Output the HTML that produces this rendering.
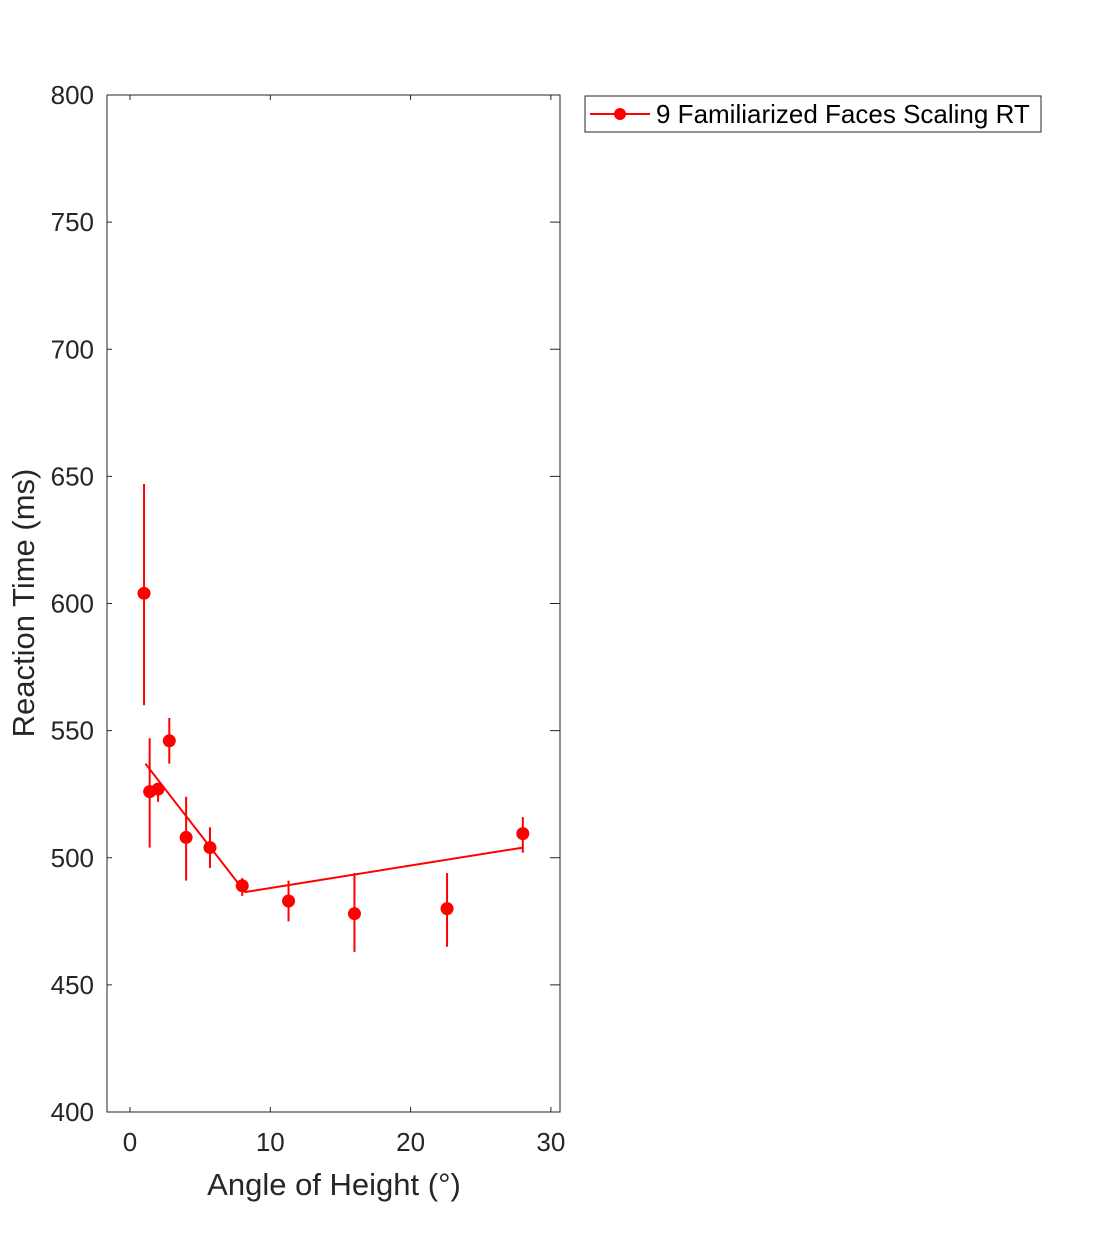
<!DOCTYPE html>
<html><head><meta charset="utf-8"><style>
body{margin:0;background:#fff;}
svg{display:block;font-family:"Liberation Sans",sans-serif;}
</style></head><body>
<svg id="chart" width="1094" height="1250">
<rect x="0" y="0" width="1094" height="1250" fill="#fff"/>
<g id="plot"></g>
<text x="334" y="1195" font-size="31" fill="#262626" text-anchor="middle">Angle of Height (°)</text>
<text transform="translate(34,603) rotate(-90)" font-size="31" fill="#262626" text-anchor="middle">Reaction Time (ms)</text>
<g>
<rect x="585" y="96" width="456" height="36" fill="#fff" stroke="#262626" stroke-width="1"/>
<line x1="590" y1="114" x2="650" y2="114" stroke="#f00" stroke-width="2"/>
<circle cx="620" cy="114" r="6" fill="#f00"/>
<text x="656" y="123" font-size="26" fill="#000">9 Familiarized Faces Scaling RT</text>
</g>
</svg>
<script>
const xs=[1,1.4,2,2.8,4,5.7,8,11.3,16,22.6,28];
const ys=[604,526,527,546,508,504,489,483,478,480,509.5];
const errLo=[560,504,522,537,491,496,485,475,463,465,502];
const errHi=[647,547,529,555,524,512,492,491,494,494,516];
const fitX=[1.1,8.2,28];
const fitY=[537,486.5,504];
const xTicks=[0,10,20,30];
const yTicks=[400,450,500,550,600,650,700,750,800];
const L=107,R=560,T=95,B=1112;
const x0=-1.64,x1=30.65,y0=400,y1=800;
const sx=v=>L+(v-x0)/(x1-x0)*(R-L);
const sy=v=>B-(v-y0)/(y1-y0)*(B-T);
const NS="http://www.w3.org/2000/svg";
const g=document.getElementById('plot');
function mk(t,a){const e=document.createElementNS(NS,t);for(const k in a)e.setAttribute(k,a[k]);g.appendChild(e);return e;}
let box=mk('rect',{x:L,y:T,width:R-L,height:B-T,fill:'none',stroke:'#262626','stroke-width':1});


xTicks.forEach(v=>{
 let t=mk('line',{x1:sx(v),x2:sx(v),y1:B,y2:B-5,stroke:'#262626'});
 
 
 let t2=mk('line',{x1:sx(v),x2:sx(v),y1:T,y2:T+5,stroke:'#262626'});
 
 
 let l=mk('text',{x:sx(v),y:B+39,'font-size':26,fill:'#262626','text-anchor':'middle'});
 l.textContent=v;
 
 
});
yTicks.forEach(v=>{
 let t=mk('line',{x1:L,x2:L+5,y1:sy(v),y2:sy(v),stroke:'#262626'});
 
 
 let t2=mk('line',{x1:R,x2:R-10,y1:sy(v),y2:sy(v),stroke:'#262626'});
 
 
 let l=mk('text',{x:L-13,y:sy(v)+9,'font-size':26,fill:'#262626','text-anchor':'end'});
 l.textContent=v;
 
 
});
let fit=mk('polyline',{points:fitX.map((v,i)=>sx(v)+','+sy(fitY[i])).join(' '),fill:'none',stroke:'#f00','stroke-width':2});


xs.forEach((v,i)=>{
 let e=mk('line',{x1:sx(v),x2:sx(v),y1:sy(errLo[i]),y2:sy(errHi[i]),stroke:'#f00','stroke-width':2});
 
 
 let c=mk('circle',{cx:sx(v),cy:sy(ys[i]),r:6.5,fill:'#f00'});
 
 
});
</script>
</body></html>
